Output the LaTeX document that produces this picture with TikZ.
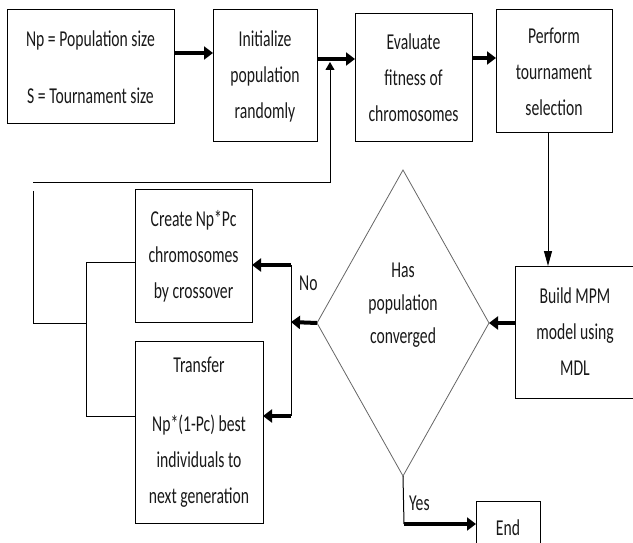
\documentclass[tikz,border=0pt]{standalone}
\usepackage{fontspec}
\setmainfont{Carlito}[FakeStretch=0.69]
\usetikzlibrary{arrows.meta,shapes.geometric}
\begin{document}
\begin{tikzpicture}[x=1pt,y=-1pt,
  txt/.style={font=\fontsize{22.7}{36}\selectfont, text=black!90},
  pbox/.style={draw=black, line width=1pt, inner sep=0pt, outer sep=0pt, align=center, txt},
  thinline/.style={draw=black, line width=1pt},
  fat/.style={draw=black, line width=4pt, -{Triangle[length=9pt,width=13pt]}},
  ]
\useasboundingbox (0,0) rectangle (633,543);
% boxes
\node[pbox, minimum width=167pt, minimum height=114pt] (b1) at (90.5,67) {Np = Population size\\[21pt]S = Tournament size};
\node[pbox, minimum width=104pt, minimum height=132pt] (b2) at (265,76) {Initialize\\population\\randomly};
\node[pbox, minimum width=117pt, minimum height=128pt] (b3) at (413.5,78) {Evaluate\\fitness of\\chromosomes};
\node[pbox, minimum width=116pt, minimum height=123pt] (b4) at (554,71.5) {Perform\\tournament\\selection};
\node[pbox, minimum width=120pt, minimum height=132pt] (build) at (575,332) {Build MPM\\model using\\MDL};
\node[pbox, minimum width=117pt, minimum height=132pt] (create) at (193.5,256) {Create Np*Pc\\chromosomes\\by crossover};
\node[pbox, minimum width=128pt, minimum height=182pt] (transfer) at (199,432) {Transfer\\[23pt]Np*(1-Pc) best\\individuals to\\next generation};
\node[pbox, minimum width=64pt, minimum height=54pt] (end) at (508,528) {End};
\node[draw=black!60, line width=0.8pt, diamond, minimum width=172pt, minimum height=306pt, inner sep=0pt, outer sep=0pt] (d) at (403,323) {};
\node[txt, align=center] (dt) at (403,305) {Has\\[-3pt]population\\[-3pt]converged};
% labels
\node[txt, anchor=west, inner sep=0pt] (no) at (299,283) {No};
\node[txt, anchor=west, inner sep=0pt] (yes) at (409,503) {Yes};
% coordinates
\coordinate (fbA) at (33,183);
\coordinate (fbB) at (330,183);
\coordinate (fbT) at (330,62);
\coordinate (lA) at (33,191);
\coordinate (lB) at (33,323);
\coordinate (lC) at (86,323);
\coordinate (lT) at (86,262);
\coordinate (lD) at (86,416);
\coordinate (nT) at (291,265);
\coordinate (nM) at (291,322);
\coordinate (nD) at (291,416);
\coordinate (yD) at (404,524);
% top arrows
\draw[fat] (b1.east |- 0,53) -- (b2.west |- 0,53);
\draw[fat] (b2.east |- 0,59) -- (b3.west |- 0,59);
\draw[fat] (b3.east |- 0,58) -- (b4.west |- 0,58);
% feedback loop
\draw[thinline] (fbA) -- (fbB);
\draw[thinline, -{Triangle[length=8pt,width=9pt]}] (fbB) -- (fbT);
\draw[thinline] (lA) -- (lB) -- (lC);
\draw[thinline] (create.west |- lT) -- (lT) -- (lD) -- (transfer.west |- lD);
% perform to build
\draw[thinline, -{Triangle[length=15pt,width=8pt]}] (b4.south -| 548,0) -- (build.north -| 548,0);
% build to decision
\draw[fat] (build.west |- d.east) -- (d.east);
% no branch
\draw[fat] (d.west) -- (nM);
\draw[thinline] (nT) -- (nD);
\draw[fat] (nT) -- (create.east |- nT);
\draw[fat] (nD) -- (transfer.east |- nD);
% yes branch
\draw[thinline] (d.south) -- (yD);
\draw[fat] (yD) -- (end.west |- yD);
\end{tikzpicture}
\end{document}
